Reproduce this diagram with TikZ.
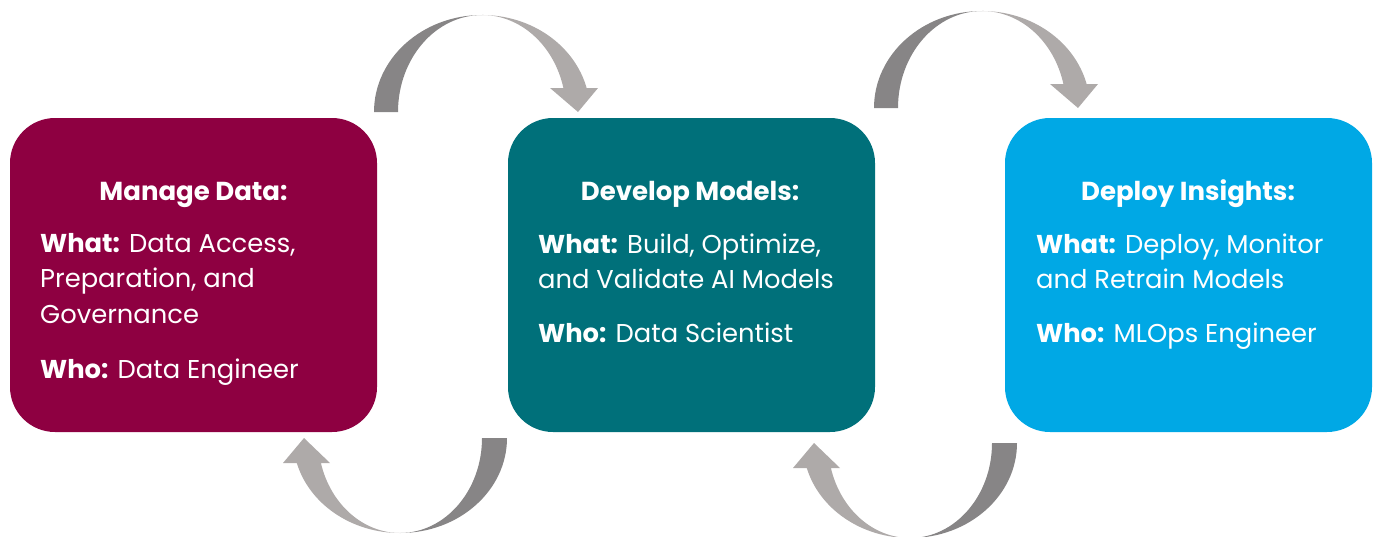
\documentclass[tikz,border=0pt]{standalone}
\usepackage{fontspec}
\setmainfont{Poppins}
\definecolor{maroon}{HTML}{8E0041}
\definecolor{tealbox}{HTML}{00707A}
\definecolor{bluebox}{HTML}{00A8E5}
\definecolor{darkgray}{HTML}{878586}
\definecolor{lightgray}{HTML}{AEAAA9}
\tikzset{
  box/.style={rounded corners=45pt, minimum width=367pt, minimum height=314pt, inner sep=0pt, draw=none},
  head/.style={anchor=base, text=white, font=\fontsize{26}{30}\selectfont\bfseries, inner sep=0pt},
  body/.style={anchor=base west, text=white, font=\fontsize{25.8}{30}\selectfont, inner sep=0pt},
}
\newcommand{\toparrow}{%
  \fill[darkgray] (374,112) arc[start angle=180, end angle=270, x radius=108, y radius=97]
     arc[start angle=270, end angle=180, x radius=84, y radius=97] -- cycle;
  \fill[lightgray] (482,15) arc[start angle=270, end angle=345.7, x radius=108, y radius=97]
     -- (598,88) -- (578,112) -- (550,88) -- (563.4,88)
     arc[start angle=345.7, end angle=270, x radius=84, y radius=97] -- cycle;
}
\newcommand{\botarrow}{%
  \fill[darkgray] (507,438) arc[start angle=0, end angle=90, x radius=107, y radius=95]
     arc[start angle=90, end angle=0, x radius=82, y radius=95] -- cycle;
  \fill[lightgray] (400,533) arc[start angle=90, end angle=164.74, x radius=107, y radius=95]
     -- (283,463) -- (304,438) -- (330,463) -- (320.9,463)
     arc[start angle=164.74, end angle=90, x radius=82, y radius=95] -- cycle;
}
\begin{document}
\begin{tikzpicture}[x=1pt, y=-1pt]
\useasboundingbox (0,0) rectangle (1373,536);
% arrows
\toparrow
\begin{scope}[shift={(500,-4)}]\toparrow\end{scope}
\botarrow
\begin{scope}[shift={(510,5)}]\botarrow\end{scope}
% boxes
\node[box, fill=maroon] (b1) at (193.5,275) {};
\node[box, fill=tealbox] (b2) at (691.5,275) {};
\node[box, fill=bluebox] (b3) at (1188.5,275) {};
% box 1 text
\node[head] (h1) at (193.5,200) {Manage Data:};
\node[body] (w1a) at (40,252) {\textbf{What:} Data Access,};
\node[body] (w1b) at (40,287.5) {Preparation, and};
\node[body] (w1c) at (40,323) {Governance};
\node[body] (p1) at (40,378) {\textbf{Who:} Data Engineer};
% box 2 text
\node[head] (h2) at (690,200) {Develop Models:};
\node[body] (w2a) at (538,253) {\textbf{What:} Build, Optimize,};
\node[body] (w2b) at (538,288) {and Validate AI Models};
\node[body] (p2) at (538,342) {\textbf{Who:} Data Scientist};
% box 3 text
\node[head] (h3) at (1188,200) {Deploy Insights:};
\node[body] (w3a) at (1036,253) {\textbf{What:} Deploy, Monitor};
\node[body] (w3b) at (1036,288) {and Retrain Models};
\node[body] (p3) at (1036,342) {\textbf{Who:} MLOps Engineer};
\end{tikzpicture}
\end{document}
